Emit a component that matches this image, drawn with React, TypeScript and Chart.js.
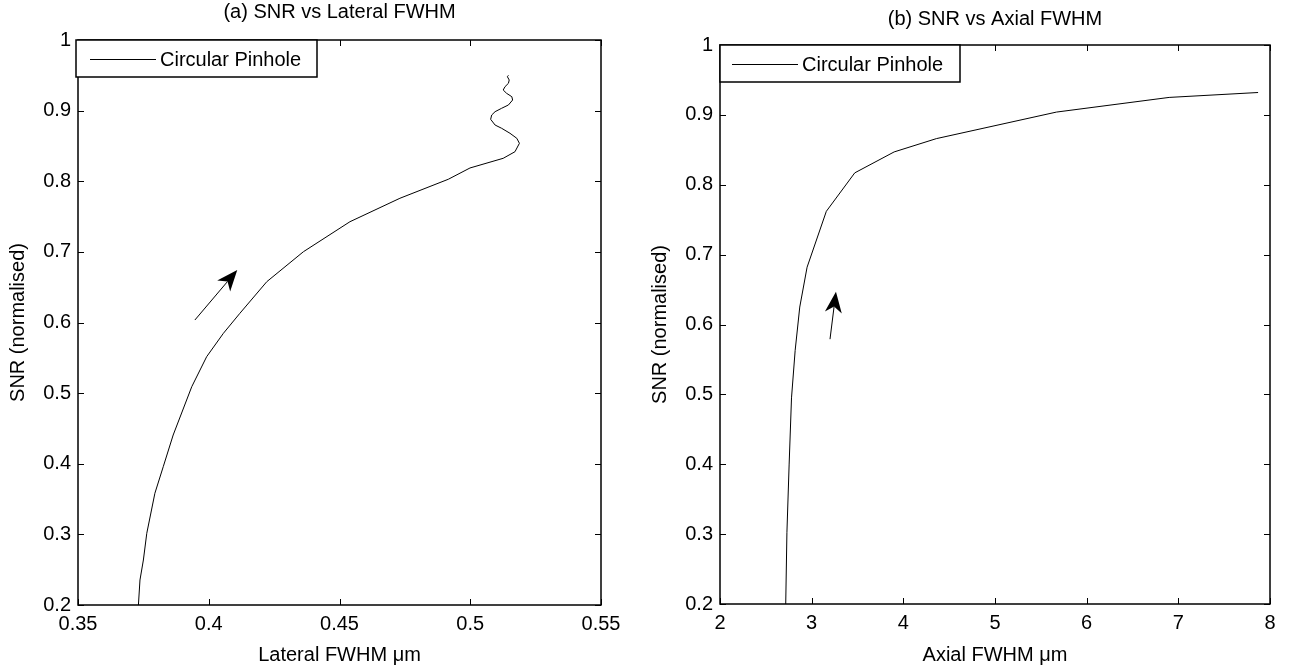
import React, { useEffect, useRef } from "react";
import { Chart, registerables } from "chart.js";

Chart.register(...registerables);

const FONT = "'Liberation Sans', Arial, Helvetica, sans-serif";

// ---------- Panel (a): SNR vs Lateral FWHM ----------
const lateralFWHM = [
  0.3731, 0.3737, 0.375, 0.3763, 0.3794, 0.3826, 0.3864, 0.3935, 0.3992, 0.4056,
  0.4119, 0.4222, 0.4362, 0.454, 0.4731, 0.4916, 0.4999, 0.5126, 0.5171, 0.5188,
  0.5178, 0.5152, 0.512, 0.5095, 0.5078, 0.5082, 0.5095, 0.512, 0.5146, 0.5162,
  0.5159, 0.5139, 0.5126, 0.5133, 0.5146, 0.5149, 0.5142, 0.5146,
];
const snrLateral = [
  0.2, 0.2354, 0.2637, 0.3015, 0.3582, 0.3958, 0.4407, 0.5091, 0.5516, 0.5847,
  0.613, 0.6578, 0.7002, 0.7427, 0.7759, 0.8028, 0.8188, 0.8325, 0.8418, 0.8537,
  0.8608, 0.8679, 0.875, 0.8796, 0.8877, 0.8938, 0.8985, 0.9033, 0.908, 0.915,
  0.9197, 0.9245, 0.9292, 0.9339, 0.9387, 0.9434, 0.948, 0.95,
];
const lateralTicks = [0.35, 0.4, 0.45, 0.5, 0.55];
const lateralTickLabels = ["0.35", "0.4", "0.45", "0.5", "0.55"];
const lateralArrowX = [0.3947, 0.4109];
const lateralArrowY = [0.6035, 0.6743];

// ---------- Panel (b): SNR vs Axial FWHM ----------
const axialFWHM = [2.717, 2.73, 2.754, 2.78, 2.82, 2.87, 2.95, 3.16, 3.47, 3.9, 4.36, 5.67, 6.9, 7.87];
const snrAxial = [0.2, 0.302, 0.399, 0.495, 0.563, 0.625, 0.682, 0.762, 0.817, 0.847, 0.866, 0.904, 0.925, 0.932];
const axialTicks = [2, 3, 4, 5, 6, 7, 8];
const axialTickLabels = ["2", "3", "4", "5", "6", "7", "8"];
const axialArrowX = [3.2, 3.265];
const axialArrowY = [0.579, 0.647];

// ---------- shared ----------
const snrTicks = [0.2, 0.3, 0.4, 0.5, 0.6, 0.7, 0.8, 0.9, 1];
const snrTickLabels = ["0.2", "0.3", "0.4", "0.5", "0.6", "0.7", "0.8", "0.9", "1"];
const legendLabel = "Circular Pinhole";
const yTitle = "SNR (normalised)";

const matlabAxes = {
  id: "matlabAxes",
  afterDatasetsDraw(chart: any, _args: any, opts: any) {
    const { ctx, scales } = chart;
    const x = scales.x;
    const y = scales.y;
    const ax = opts.arrowX as number[];
    const ay = opts.arrowY as number[];
    const x1 = x.getPixelForValue(ax[0]);
    const y1 = y.getPixelForValue(ay[0]);
    const x2 = x.getPixelForValue(ax[1]);
    const y2 = y.getPixelForValue(ay[1]);
    const dx = x2 - x1;
    const dy = y2 - y1;
    const len = Math.hypot(dx, dy);
    const ux = dx / len;
    const uy = dy / len;
    const nx = -uy;
    const ny = ux;
    const L = 21;
    const W = 8.5;
    const N = 15;
    ctx.save();
    ctx.strokeStyle = "#000";
    ctx.fillStyle = "#000";
    ctx.lineWidth = 1;
    ctx.beginPath();
    ctx.moveTo(x1, y1);
    ctx.lineTo(x2 - ux * N, y2 - uy * N);
    ctx.stroke();
    ctx.beginPath();
    ctx.moveTo(x2, y2);
    ctx.lineTo(x2 - ux * L + nx * W, y2 - uy * L + ny * W);
    ctx.lineTo(x2 - ux * N, y2 - uy * N);
    ctx.lineTo(x2 - ux * L - nx * W, y2 - uy * L - ny * W);
    ctx.closePath();
    ctx.fill();
    ctx.restore();
  },
  afterDraw(chart: any, _args: any, opts: any) {
    const { ctx, chartArea, scales } = chart;
    const { left, right, top, bottom } = chartArea;
    const x = scales.x;
    const y = scales.y;
    const tl = 6;
    ctx.save();
    ctx.strokeStyle = "#000";
    ctx.lineWidth = 1;
    ctx.beginPath();
    x.ticks.forEach((t: any) => {
      const px = Math.round(x.getPixelForValue(t.value)) + 0.5;
      ctx.moveTo(px, bottom);
      ctx.lineTo(px, bottom - tl);
      ctx.moveTo(px, top);
      ctx.lineTo(px, top + tl);
    });
    y.ticks.forEach((t: any) => {
      const py = Math.round(y.getPixelForValue(t.value)) + 0.5;
      ctx.moveTo(left, py);
      ctx.lineTo(left + tl, py);
      ctx.moveTo(right, py);
      ctx.lineTo(right - tl, py);
    });
    ctx.stroke();
    ctx.lineWidth = 1.5;
    ctx.strokeRect(left, top, right - left, bottom - top);

    // legend box
    const bx = left + opts.legendDx;
    const bw = opts.legendW;
    const bh = 37;
    ctx.fillStyle = "#fff";
    ctx.fillRect(bx, top, bw, bh);
    ctx.lineWidth = 1.5;
    ctx.strokeRect(bx, top, bw, bh);
    const my = top + bh / 2 + 0.5;
    ctx.lineWidth = 1;
    ctx.beginPath();
    ctx.moveTo(left + 12, Math.round(my) + 0.5);
    ctx.lineTo(left + 78, Math.round(my) + 0.5);
    ctx.stroke();
    ctx.fillStyle = "#000";
    ctx.font = `20px ${FONT}`;
    ctx.textAlign = "left";
    ctx.textBaseline = "middle";
    ctx.fillText(legendLabel, left + 82, my + 1);
    ctx.restore();
  },
};

type Panel = {
  xs: number[];
  ys: number[];
  xTicks: number[];
  xTickLabels: string[];
  xTitle: string;
  title: string;
  arrowX: number[];
  arrowY: number[];
  width: number;
  yAxisWidth: number;
  xAxisHeight: number;
  rightPad: number;
  titlePad: { top: number; bottom: number };
  yTitlePad: number;
  legendDx: number;
  legendW: number;
};

function buildConfig(p: Panel): any {
  return {
    type: "line",
    data: {
      datasets: [
        {
          label: legendLabel,
          data: p.xs.map((v, i) => ({ x: v, y: p.ys[i] })),
          borderColor: "#000",
          borderWidth: 1,
          pointRadius: 0,
          fill: false,
          tension: 0,
        },
      ],
    },
    options: {
      responsive: false,
      animation: false,
      devicePixelRatio: 1,
      layout: { padding: { left: 0, right: p.rightPad, top: 0, bottom: 0 } },
      plugins: {
        legend: { display: false },
        tooltip: { enabled: false },
        title: {
          display: true,
          text: p.title,
          fullSize: false,
          color: "#000",
          font: { family: FONT, size: 20, weight: "normal" },
          padding: p.titlePad,
        },
        matlabAxes: {
          arrowX: p.arrowX,
          arrowY: p.arrowY,
          legendDx: p.legendDx,
          legendW: p.legendW,
        },
      },
      scales: {
        x: {
          type: "linear",
          min: p.xTicks[0],
          max: p.xTicks[p.xTicks.length - 1],
          grid: { display: false, drawTicks: false },
          border: { display: false },
          afterBuildTicks: (s: any) => {
            s.ticks = p.xTicks.map((v) => ({ value: v }));
          },
          afterFit: (s: any) => {
            s.height = p.xAxisHeight;
          },
          ticks: {
            autoSkip: false,
            maxRotation: 0,
            padding: 7,
            color: "#000",
            font: { family: FONT, size: 20 },
            callback: (_v: any, i: number) => p.xTickLabels[i],
          },
          title: {
            display: true,
            text: p.xTitle,
            color: "#000",
            font: { family: FONT, size: 20 },
            padding: { top: 0, bottom: 3 },
          },
        },
        y: {
          type: "linear",
          min: 0.2,
          max: 1,
          grid: { display: false, drawTicks: false },
          border: { display: false },
          afterBuildTicks: (s: any) => {
            s.ticks = snrTicks.map((v) => ({ value: v }));
          },
          afterFit: (s: any) => {
            s.width = p.yAxisWidth;
          },
          ticks: {
            autoSkip: false,
            padding: 7,
            color: "#000",
            font: { family: FONT, size: 20 },
            callback: (_v: any, i: number) => snrTickLabels[i],
          },
          title: {
            display: true,
            text: yTitle,
            color: "#000",
            font: { family: FONT, size: 20 },
            padding: { top: p.yTitlePad, bottom: 0 },
          },
        },
      },
    },
    plugins: [matlabAxes],
  };
}

const panelA: Panel = {
  xs: lateralFWHM,
  ys: snrLateral,
  xTicks: lateralTicks,
  xTickLabels: lateralTickLabels,
  xTitle: "Lateral FWHM \u03bcm",
  title: "(a) SNR vs Lateral FWHM",
  arrowX: lateralArrowX,
  arrowY: lateralArrowY,
  width: 640,
  yAxisWidth: 78,
  xAxisHeight: 65,
  rightPad: 39,
  titlePad: { top: 0, bottom: 16 },
  yTitlePad: 6,
  legendDx: -2,
  legendW: 241,
};

const panelB: Panel = {
  xs: axialFWHM,
  ys: snrAxial,
  xTicks: axialTicks,
  xTickLabels: axialTickLabels,
  xTitle: "Axial FWHM \u03bcm",
  title: "(b) SNR vs Axial FWHM",
  arrowX: axialArrowX,
  arrowY: axialArrowY,
  width: 665,
  yAxisWidth: 80,
  xAxisHeight: 66,
  rightPad: 35,
  titlePad: { top: 7, bottom: 14 },
  yTitlePad: 8,
  legendDx: 0,
  legendW: 240,
};

function PanelChart({ panel, left }: { panel: Panel; left: number }) {
  const ref = useRef<HTMLCanvasElement | null>(null);
  useEffect(() => {
    if (!ref.current) return;
    const chart = new Chart(ref.current, buildConfig(panel));
    return () => chart.destroy();
  }, [panel]);
  return (
    <canvas
      ref={ref}
      width={panel.width}
      height={670}
      style={{ position: "absolute", left, top: 0, width: panel.width, height: 670 }}
    />
  );
}

export default function App() {
  return (
    <div
      style={{
        position: "fixed",
        left: 0,
        top: 0,
        width: 1305,
        height: 670,
        background: "#fff",
        overflow: "hidden",
      }}
    >
      <PanelChart panel={panelA} left={0} />
      <PanelChart panel={panelB} left={640} />
    </div>
  );
}
